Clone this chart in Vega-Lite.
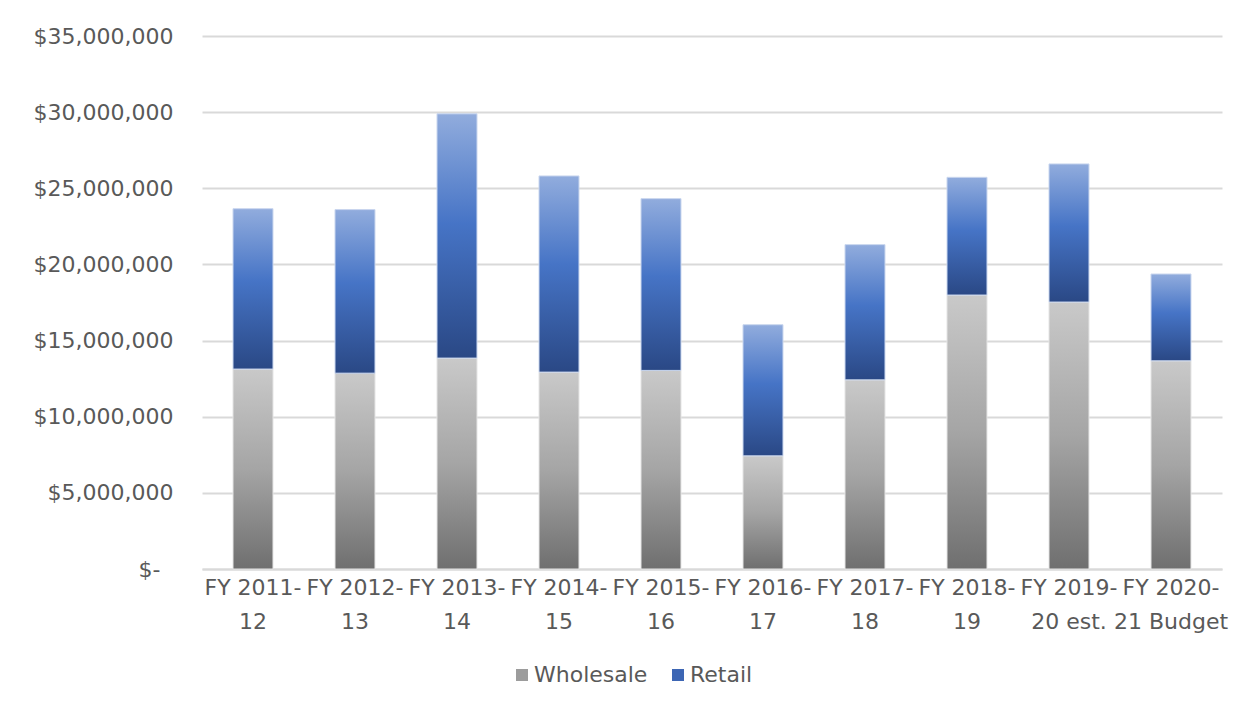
{
  "$schema": "https://vega.github.io/schema/vega-lite/v6.json",
  "width": 1020,
  "height": 533,
  "autosize": {"type": "none"},
  "padding": {"left": 202, "top": 36, "right": 28, "bottom": 140},
  "background": "white",
  "config": {"view": {"stroke": null}, "font": "DejaVu Sans"},
  "data": {
    "values": [
      {"year": "FY 2011-12", "type": "Wholesale", "k": 1, "value": 13130000},
      {"year": "FY 2011-12", "type": "Retail", "k": 2, "value": 10530000},
      {"year": "FY 2012-13", "type": "Wholesale", "k": 1, "value": 12860000},
      {"year": "FY 2012-13", "type": "Retail", "k": 2, "value": 10740000},
      {"year": "FY 2013-14", "type": "Wholesale", "k": 1, "value": 13850000},
      {"year": "FY 2013-14", "type": "Retail", "k": 2, "value": 16040000},
      {"year": "FY 2014-15", "type": "Wholesale", "k": 1, "value": 12930000},
      {"year": "FY 2014-15", "type": "Retail", "k": 2, "value": 12880000},
      {"year": "FY 2015-16", "type": "Wholesale", "k": 1, "value": 13040000},
      {"year": "FY 2015-16", "type": "Retail", "k": 2, "value": 11280000},
      {"year": "FY 2016-17", "type": "Wholesale", "k": 1, "value": 7430000},
      {"year": "FY 2016-17", "type": "Retail", "k": 2, "value": 8610000},
      {"year": "FY 2017-18", "type": "Wholesale", "k": 1, "value": 12420000},
      {"year": "FY 2017-18", "type": "Retail", "k": 2, "value": 8880000},
      {"year": "FY 2018-19", "type": "Wholesale", "k": 1, "value": 17990000},
      {"year": "FY 2018-19", "type": "Retail", "k": 2, "value": 7730000},
      {"year": "FY 2019-20 est.", "type": "Wholesale", "k": 1, "value": 17530000},
      {"year": "FY 2019-20 est.", "type": "Retail", "k": 2, "value": 9070000},
      {"year": "FY 2020-21 Budget", "type": "Wholesale", "k": 1, "value": 13670000},
      {"year": "FY 2020-21 Budget", "type": "Retail", "k": 2, "value": 5700000}
    ]
  },
  "transform": [
    {"stack": "value", "groupby": ["year"], "sort": [{"field": "k", "order": "ascending"}], "as": ["v0", "v1"]}
  ],
  "encoding": {
    "x": {
      "field": "year",
      "type": "nominal",
      "sort": null,
      "scale": {"paddingInner": 0.608, "paddingOuter": 0.304},
      "axis": {
        "title": null,
        "labelAngle": 0,
        "domain": true,
        "domainColor": "#d9d9d9",
        "domainWidth": 2,
        "ticks": false,
        "labelFontSize": 22,
        "labelColor": "#595959",
        "labelPadding": 8,
        "labelLineHeight": 34,
        "labelOverlap": false,
        "labelBound": false,
        "labelExpr": "[slice(datum.label, 0, indexof(datum.label, '-') + 1), slice(datum.label, indexof(datum.label, '-') + 1)]"
      }
    }
  },
  "layer": [
    {
      "transform": [{"filter": "datum.type == 'Wholesale'"}],
      "mark": {
        "type": "bar",
        "stroke": "#e4e4e4",
        "strokeWidth": 1,
        "color": {"gradient": "linear", "x1": 0, "y1": 1, "x2": 0, "y2": 0, "stops": [{"offset": 0, "color": "#6f6f6f"}, {"offset": 0.5, "color": "#a5a5a5"}, {"offset": 1, "color": "#c9c9c9"}]}
      },
      "encoding": {
        "y": {
          "field": "v1",
          "type": "quantitative",
          "scale": {"domain": [0, 35000000], "nice": false},
          "axis": {
            "title": null,
            "values": [0, 5000000, 10000000, 15000000, 20000000, 25000000, 30000000, 35000000],
            "grid": true,
            "gridColor": "#d9d9d9",
            "gridWidth": 2,
            "domain": false,
            "ticks": false,
            "labelFontSize": 22,
            "labelColor": "#595959",
            "labelPadding": {"condition": {"test": "datum.value == 0", "value": 42}, "value": 29},
            "labelExpr": "datum.value == 0 ? '$-' : '$' + format(datum.value, ',')"
          }
        },
        "y2": {"field": "v0"}
      }
    },
    {
      "transform": [{"filter": "datum.type == 'Retail'"}],
      "mark": {
        "type": "bar",
        "stroke": "#c9d6ee",
        "strokeWidth": 1,
        "color": {"gradient": "linear", "x1": 0, "y1": 1, "x2": 0, "y2": 0, "stops": [{"offset": 0, "color": "#2a4885"}, {"offset": 0.55, "color": "#4674c6"}, {"offset": 1, "color": "#91acdd"}]}
      },
      "encoding": {
        "y": {"field": "v1", "type": "quantitative"},
        "y2": {"field": "v0"}
      }
    },
    {
      "mark": {"type": "square", "size": 0, "filled": true, "opacity": 1},
      "encoding": {
        "y": {"field": "v1", "type": "quantitative"},
        "color": {
          "field": "type",
          "type": "nominal",
          "scale": {"domain": ["Wholesale", "Retail"], "range": ["#9c9c9c", "#3d66b4"]},
          "legend": {
            "title": null,
            "orient": "none",
            "legendX": 309,
            "legendY": 628,
            "direction": "horizontal",
            "symbolType": "square",
            "symbolSize": 144,
            "symbolStrokeWidth": 0,
            "symbolOpacity": 1,
            "labelFontSize": 22,
            "labelColor": "#595959",
            "labelOffset": 1,
            "columnPadding": 19,
            "padding": 0
          }
        }
      }
    }
  ]
}
